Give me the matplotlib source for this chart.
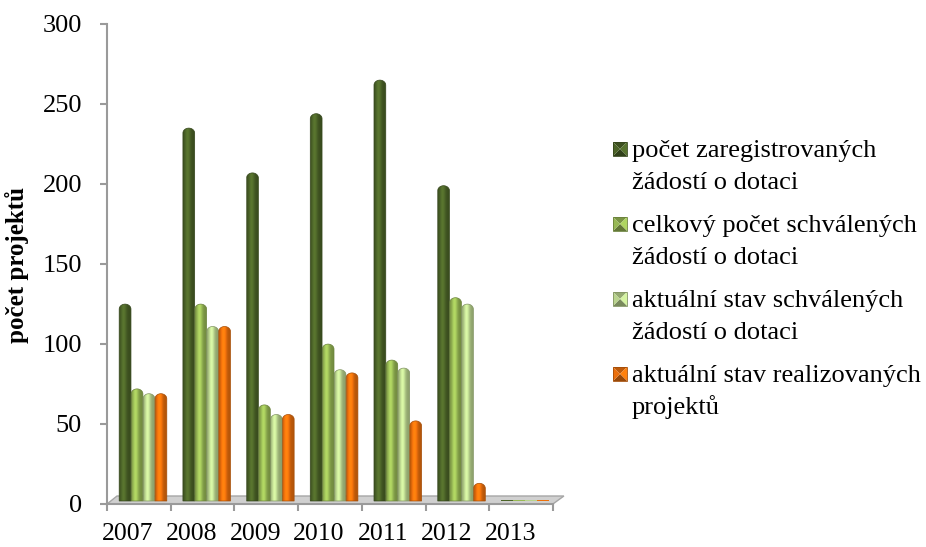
import numpy as np
import matplotlib
matplotlib.use("Agg")
import matplotlib.pyplot as plt
from matplotlib.patches import Rectangle, Polygon

plt.rcParams['font.family'] = ['Liberation Serif', 'DejaVu Serif']

years = ["2007", "2008", "2009", "2010", "2011", "2012", "2013"]
registered = [124, 234, 206, 243, 264, 198, 0]
approved_total = [71, 124, 61, 99, 89, 128, 0]
approved_now = [68, 110, 55, 83, 84, 124, 0]
realized_now = [68, 110, 55, 81, 51, 12, 0]
series_names = [("počet zaregistrovaných", "žádostí o dotaci"),
                ("celkový počet schválených", "žádostí o dotaci"),
                ("aktuální stav schválených", "žádostí o dotaci"),
                ("aktuální stav realizovaných", "projektů")]
series = [registered, approved_total, approved_now, realized_now]
colors = ["#4c6428", "#98b955", "#bad48e", "#ec700c"]

W, H = 926, 547
fig = plt.figure(figsize=(W / 100, H / 100), dpi=100)

# pixel geometry of the plot area
x0_px, y0_px, ytop_px = 107, 504, 24
cat_px = 63.7
right_px = 570
ax = fig.add_axes([x0_px / W, (H - y0_px) / H, (right_px - x0_px) / W, (y0_px - ytop_px) / H])
xmax = (right_px - x0_px) / cat_px
px_y = 300 / (y0_px - ytop_px)   # data units per pixel (y)
px_x = 1 / cat_px                # data units per pixel (x)

grey = "#9a9a9a"
for s in ["top", "right"]:
    ax.spines[s].set_visible(False)
ax.spines["left"].set_color(grey)
ax.spines["left"].set_linewidth(1.5)
ax.spines["bottom"].set_color(grey)
ax.spines["bottom"].set_linewidth(1.5)
ax.spines["bottom"].set_bounds(0, len(years))

ax.set_yticks(np.arange(0, 301, 50))
ax.tick_params(axis="y", direction="out", length=5, width=1.5, color=grey,
               labelsize=19, pad=13)
ax.set_xticks(np.arange(len(years)) + 0.33)
ax.set_xticklabels(years)
ax.set_xticks(np.arange(len(years) + 1), minor=True)
ax.tick_params(axis="x", which="major", length=0, labelsize=18.5, pad=14)
ax.tick_params(axis="x", which="minor", direction="out", length=5, width=1.5, color=grey)

# floor of the 3d plot
fl_h = 8 * px_y
floor = Polygon([(0, 0), (len(years), 0), (len(years) + 11 * px_x, fl_h), (10 * px_x, fl_h)],
                closed=True, facecolor="#d0d0d0", edgecolor="#a6a6a6", lw=1, zorder=1,
                clip_on=False)
ax.add_patch(floor)


def shaded(color, n=64):
    c = np.array(matplotlib.colors.to_rgb(color))
    t = np.linspace(0, 1, n)
    f = 0.76 + 0.42 * np.exp(-((t - 0.38) / 0.26) ** 2)
    img = np.clip(c[None, :] * f[:, None], 0, 1)
    return img[None, :, :]


def bar_outline(xl, w, bottom, top, ry):
    th = np.linspace(np.pi, 0, 25)
    xs = xl + w / 2 + (w / 2) * np.cos(th)
    ys = top - ry + ry * np.sin(th)
    pts = [(xl, bottom)] + list(zip(xs, ys)) + [(xl + w, bottom)]
    return pts


bw = 0.185
base = 3 * px_y
ry = 5 * px_y
for k, (vals, col) in enumerate(zip(series, colors)):
    for i, v in enumerate(vals):
        xc = i + 0.19 + 0.1875 * (k + 0.5)
        xl = xc - bw / 2
        top = max(v + 1.5 * px_y, base + 1.5 * px_y)
        h = top - base
        if h > 2 * ry:
            patch = Polygon(bar_outline(xl, bw, base, top, ry), closed=True,
                            facecolor="none", edgecolor=np.array(matplotlib.colors.to_rgb(col)) * 0.7,
                            lw=0.5, zorder=3)
            ax.add_patch(patch)
            im = ax.imshow(shaded(col), extent=(xl, xl + bw, base, top), aspect="auto",
                           zorder=2, interpolation="bilinear")
            im.set_clip_path(patch)
        else:
            ax.add_patch(Rectangle((xl, base), bw, h, facecolor=col, edgecolor="none",
                                   zorder=2))

ax.set_xlim(0, xmax)
ax.set_ylim(0, 300)

# overlay in pixel coordinates for the legend and axis title
ov = fig.add_axes([0, 0, 1, 1])
ov.set_xlim(0, W)
ov.set_ylim(H, 0)
ov.axis("off")
ov.patch.set_alpha(0)

ov.text(17, 265, "počet projektů", rotation=90, fontsize=18, fontweight="bold",
        ha="center", va="center")


def marker(x, y, s, color):
    c = np.array(matplotlib.colors.to_rgb(color))
    cx, cy = x + s / 2, y + s / 2
    pts = [(x, y), (x + s, y), (x + s, y + s), (x, y + s)]
    shades = [0.8, 1.15, 0.65, 1.0]
    for j in range(4):
        p1, p2 = pts[j], pts[(j + 1) % 4]
        ov.add_patch(Polygon([p1, p2, (cx, cy)], closed=True,
                             facecolor=np.clip(c * shades[j], 0, 1), edgecolor="none"))
    ov.add_patch(Rectangle((x, y), s, s, facecolor="none", edgecolor=c * 0.7, lw=0.6))


for k, ((l1, l2), col) in enumerate(zip(series_names, colors)):
    yb = 157 + 75 * k
    marker(613, yb - 15, 14, col)
    ov.text(632, yb, l1, fontsize=19, ha="left", va="baseline")
    ov.text(632, yb + 32, l2, fontsize=19, ha="left", va="baseline")

fig.savefig("out.png", dpi=100)
